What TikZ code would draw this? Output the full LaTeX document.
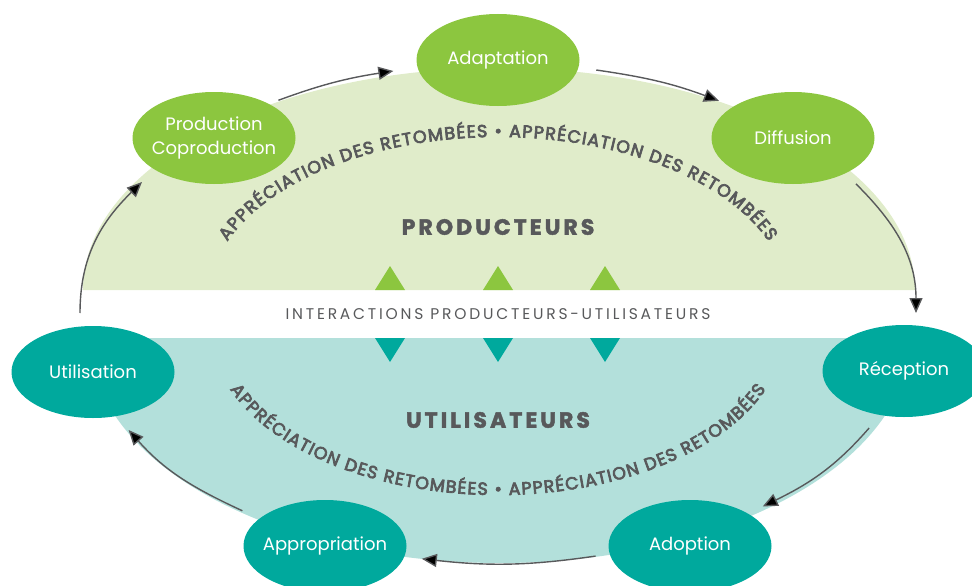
\documentclass[tikz,border=0pt]{standalone}
\usepackage{fontspec}
\setmainfont{Poppins}
\newfontfamily\curvefam{Poppins}[FakeBold=4]
\newfontfamily\headfam{Poppins}[BoldFeatures={FakeBold=2}]
\usetikzlibrary{arrows.meta,decorations.text,shapes.geometric,calc}
\definecolor{lgreen}{RGB}{224,236,202}
\definecolor{dgreen}{RGB}{140,198,63}
\definecolor{lteal}{RGB}{179,224,219}
\definecolor{dteal}{RGB}{0,169,157}
\definecolor{tgray}{RGB}{88,89,91}
\newcommand\curvefont{\curvefam\fontsize{17.5}{20}\selectfont}
\tikzset{
  stage/.style={ellipse, minimum width=163pt, minimum height=92pt, inner sep=-10pt,
    text=white, align=center, font=\fontsize{18}{24}\selectfont},
  gstage/.style={stage, fill=dgreen},
  tstage/.style={stage, fill=dteal},
  flow/.style={draw=tgray, line width=1.4pt, -{Triangle[length=15pt,width=13pt]}},
  headline/.style={text=tgray, font=\headfam\fontsize{22}{26}\selectfont\bfseries\addfontfeature{LetterSpace=14}},
  bandtext/.style={text=tgray, font=\fontsize{15.5}{18}\selectfont\addfontfeature{LetterSpace=18}},
  curvetext/.style={decorate, decoration={text along path, text color=tgray,
    text={|\curvefont|APPRÉCIATION DES RETOMBÉES • APPRÉCIATION DES RETOMBÉES},
    text align=fit to path}},
}
\begin{document}
\begin{tikzpicture}[x=1pt,y=1pt]
\useasboundingbox (0,0) rectangle (972,-586);
% background halves
\fill[lgreen] (83,-290) arc[start angle=180,end angle=0,x radius=416pt,y radius=222pt] -- cycle;
\fill[lteal] (90,-338) arc[start angle=180,end angle=360,x radius=410pt,y radius=225pt] -- cycle;
% triangles
\foreach \tx in {390,498,605}{
  \fill[dgreen] (\tx-15,-290) -- (\tx+15,-290) -- (\tx,-266) -- cycle;
  \fill[dteal] (\tx-15,-338) -- (\tx+15,-338) -- (\tx,-362) -- cycle;
}
% texts
\node[bandtext] (band) at (498,-314) {INTERACTIONS PRODUCTEURS-UTILISATEURS};
\node[headline] (prodtitle) at (498,-227) {PRODUCTEURS};
\node[headline] (usertitle) at (498,-420) {UTILISATEURS};
\path[curvetext] ($(498,-300)+(159:290 and 163)$) arc[start angle=159,end angle=21,x radius=290pt,y radius=163pt];
\path[curvetext] ($(498,-330)+(201:287 and 165)$) arc[start angle=201,end angle=339,x radius=287pt,y radius=165pt];
% stages
\node[gstage] (prod) at (214,-138) {Production\\Coproduction};
\node[gstage] (adap) at (498,-60) {Adaptation};
\node[gstage] (diff) at (793,-138) {Diffusion};
\node[tstage] (util) at (93,-372) {Utilisation};
\node[tstage] (recep) at (904,-371) {Réception};
\node[tstage] (adop) at (690,-546) {Adoption};
\node[tstage] (appr) at (325,-546) {Appropriation};
% connector end points on the cycle ellipse
\coordinate (C) at (498,-313);
\coordinate (a1s) at ($(C)+(180:418 and 250)$);
\coordinate (a1e) at ($(C)+(148.4:418 and 250)$);
\coordinate (a2s) at ($(C)+(121.7:418 and 250)$);
\coordinate (a2e) at ($(C)+(104.5:418 and 250)$);
\coordinate (a3s) at ($(C)+(76.4:418 and 250)$);
\coordinate (a3e) at ($(C)+(58.1:418 and 250)$);
\coordinate (a4s) at ($(C)+(31.1:418 and 250)$);
\coordinate (a4e) at ($(C)+(0:418 and 250)$);
\coordinate (a5s) at ($(C)+(-27.4:418 and 250)$);
\coordinate (a5e) at ($(C)+(-50.7:418 and 250)$);
\coordinate (a6s) at ($(C)+(-76.5:418 and 250)$);
\coordinate (a6e) at ($(C)+(-100.5:418 and 250)$);
\coordinate (a7s) at ($(C)+(-127.7:418 and 250)$);
\coordinate (a7e) at ($(C)+(-152.1:418 and 250)$);
\draw[flow] (a1s) to[out=90,in=224.2] (a1e);
\draw[flow] (a2s) to[out=20.2,in=188.8] (a2e);
\draw[flow] (a3s) to[out=-8.2,in=159.6] (a3e);
\draw[flow] (a4s) to[out=-44.7,in=90] (a4e);
\draw[flow] (a5s) to[out=-131,in=26.1] (a5e);
\draw[flow] (a6s) to[out=188.2,in=-6.3] (a6e);
\draw[flow] (a7s) to[out=155.2,in=-48.5] (a7e);
\end{tikzpicture}
\end{document}
